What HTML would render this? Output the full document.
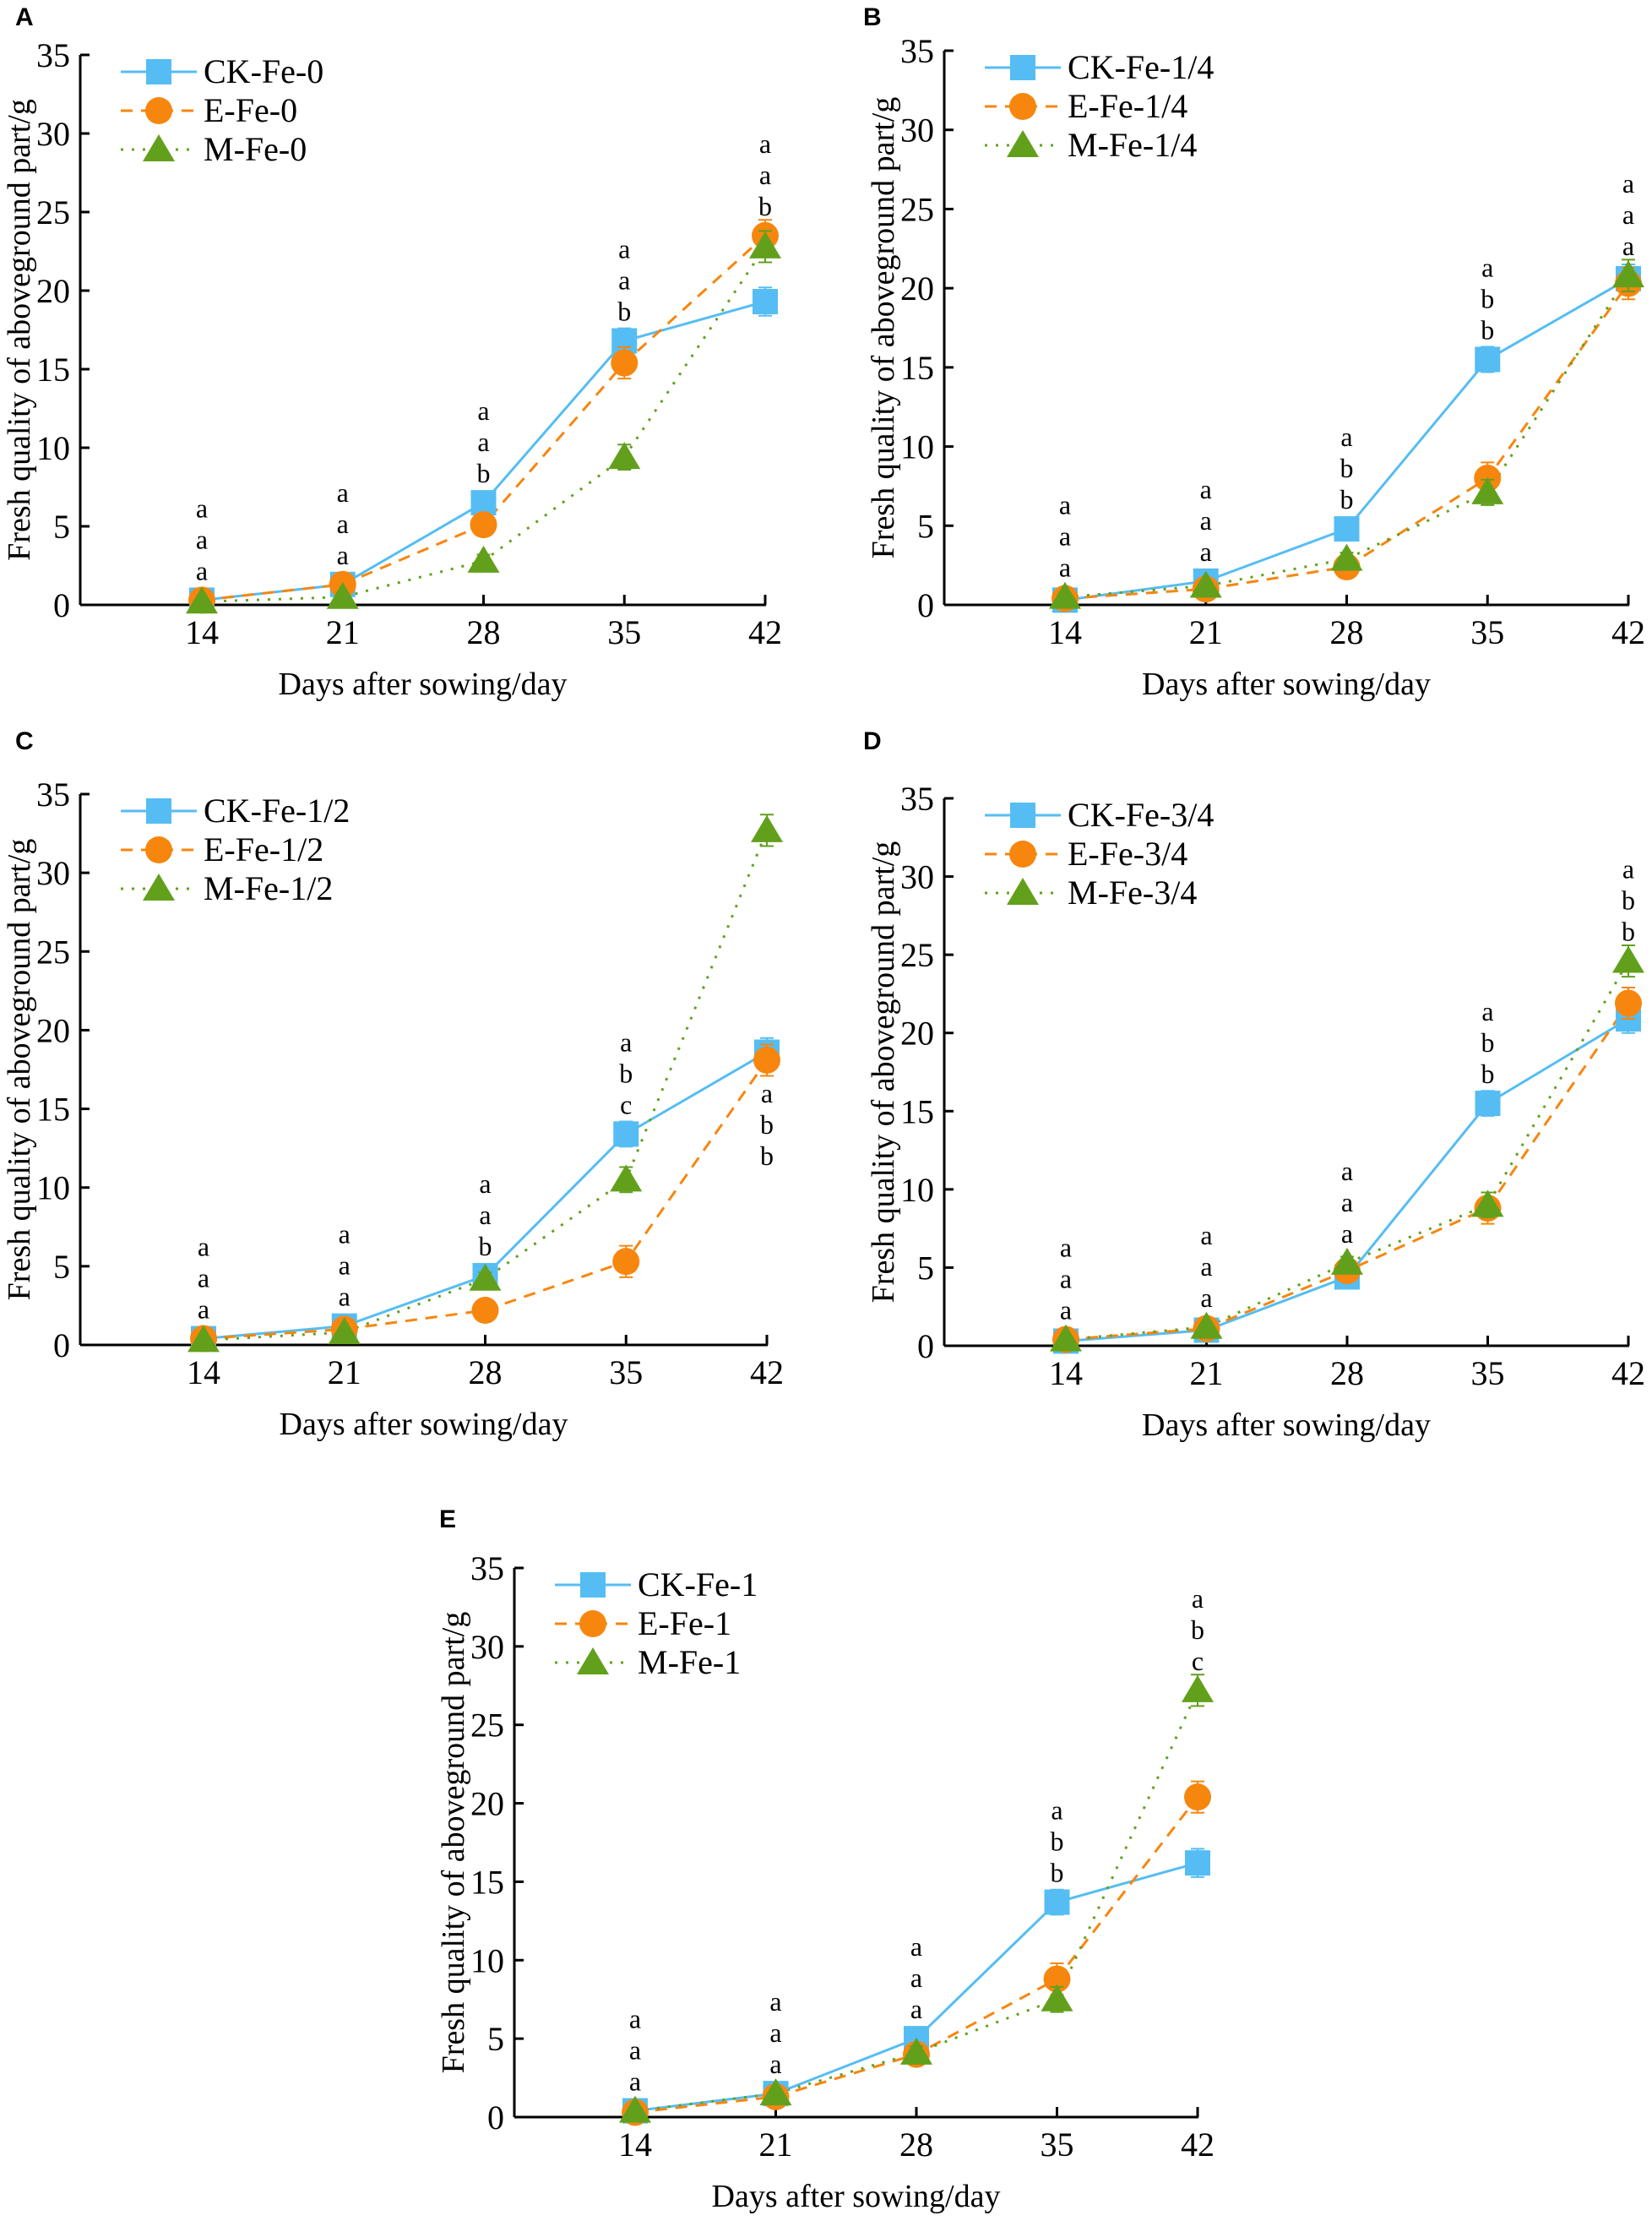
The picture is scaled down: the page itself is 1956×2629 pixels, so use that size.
<!DOCTYPE html>
<html><head><meta charset="utf-8">
<style>
html,body{margin:0;padding:0;background:#fff;}
svg{display:block;font-family:"Liberation Serif","Times New Roman",serif;}
svg text{font-family:"Liberation Serif","Times New Roman",serif;}
svg text.pl{font-family:"Liberation Sans",Arial,sans-serif;font-weight:bold;font-size:30px;}
</style></head>
<body>
<svg id="chart" width="1956" height="2629" viewBox="0 0 1956 2629" xmlns="http://www.w3.org/2000/svg" font-family="Liberation Serif, serif"></svg>
<script>
const days = [14, 21, 28, 35, 42];
const yTicks = [0, 5, 10, 15, 20, 25, 30, 35];
const suffixes = ["0", "1/4", "1/2", "3/4", "1"];
const panelLetters = ["A", "B", "C", "D", "E"];
const ckA = [0.3, 1.3, 6.5, 16.8, 19.3];
const eA = [0.3, 1.3, 5.1, 15.4, 23.5];
const mA = [0.2, 0.5, 2.8, 9.4, 22.8];
const ckB = [0.3, 1.5, 4.8, 15.5, 20.6];
const eB = [0.4, 1.0, 2.4, 8.0, 20.3];
const mB = [0.5, 1.2, 2.9, 7.1, 20.8];
const ckC = [0.4, 1.2, 4.4, 13.4, 18.6];
const eC = [0.4, 1.0, 2.2, 5.3, 18.1];
const mC = [0.3, 0.8, 4.2, 10.5, 32.7];
const ckD = [0.3, 1.0, 4.4, 15.5, 20.9];
const eD = [0.4, 1.1, 4.8, 8.8, 21.9];
const mD = [0.4, 1.2, 5.3, 9.0, 24.6];
const ckE = [0.4, 1.5, 5.0, 13.7, 16.2];
const eE = [0.3, 1.3, 4.0, 8.8, 20.4];
const mE = [0.4, 1.5, 4.1, 7.5, 27.2];
const errCK = [0.1, 0.2, 0.5, 0.8, 0.9];
const errE = [0.1, 0.2, 0.5, 1.0, 1.0];
const errM = [0.1, 0.2, 0.4, 0.8, 1.0];
const lettersA = ["aaa", "aaa", "aab", "aab", "aab"];
const lettersB = ["aaa", "aaa", "abb", "abb", "aaa"];
const lettersC = ["aaa", "aaa", "aab", "abc", "abb"];
const lettersD = ["aaa", "aaa", "aaa", "abb", "abb"];
const lettersE = ["aaa", "aaa", "aaa", "abb", "abc"];
const below = [[], [], [4], [], []];

const panels = [
  {ax:95, x0:239, x1:906, y0:716, y35:65, lx:18, ly:30, ck:ckA, e:eA, m:mA, let:lettersA},
  {ax:1118, x0:1261, x1:1928, y0:716, y35:60, lx:1022, ly:30, ck:ckB, e:eB, m:mB, let:lettersB},
  {ax:95, x0:241, x1:908, y0:1592, y35:940, lx:18, ly:887, ck:ckC, e:eC, m:mC, let:lettersC},
  {ax:1118, x0:1262, x1:1928, y0:1593, y35:945, lx:1022, ly:887, ck:ckD, e:eD, m:mD, let:lettersD},
  {ax:609, x0:752, x1:1418, y0:2506, y35:1856, lx:520, ly:1808, ck:ckE, e:eE, m:mE, let:lettersE}
];
const NS = "http://www.w3.org/2000/svg";
const svg = document.getElementById("chart");
const SERIF = "Liberation Serif, Times New Roman, serif";
function mk(tag, attrs, parent) {
  const el = document.createElementNS(NS, tag);
  for (const k in attrs) el.setAttribute(k, attrs[k]);
  if (tag === "text" && !attrs.class) el.setAttribute("font-family", SERIF);
  (parent || svg).appendChild(el);
  return el;
}
const BLUE = "#55bdf3", ORANGE = "#f7860f", GREEN = "#62a01c";
const styles = [
  {c:BLUE, dash:"", name:"CK"},
  {c:ORANGE, dash:"14 10", name:"E"},
  {c:GREEN, dash:"3 10", name:"M"}
];
function marker(g, kind, x, y, color) {
  let el;
  if (kind === 0) el = mk("rect", {x:x-15, y:y-15, width:30, height:30, fill:color}, g);
  else if (kind === 1) el = mk("circle", {cx:x, cy:y, r:16, fill:color}, g);
  else el = mk("polygon", {points:`${x},${y-18} ${x+19},${y+14} ${x-19},${y+14}`, fill:color}, g);
  return el;
}
panels.forEach((p, pi) => {
  const g = mk("g", {});
  
  
  const xs = d => p.x0 + (d - days[0]) / (days[days.length-1] - days[0]) * (p.x1 - p.x0);
  const ys = v => p.y0 - v / 35 * (p.y0 - p.y35);
  const lab = mk("text", {x:p.lx, y:p.ly, class:"pl", "font-family":"Liberation Sans, Arial, sans-serif", "font-weight":"bold", "font-size":30}, g);
  lab.textContent = panelLetters[pi];
  
  
  const yax = mk("line", {x1:p.ax, y1:p.y35, x2:p.ax, y2:p.y0, stroke:"#000", "stroke-width":3}, g);
  
  
  const xax = mk("line", {x1:p.ax, y1:p.y0, x2:p.x1+1, y2:p.y0, stroke:"#000", "stroke-width":3}, g);
  
  
  yTicks.forEach(t => {
    mk("line", {x1:p.ax, y1:ys(t), x2:p.ax+11, y2:ys(t), stroke:"#000", "stroke-width":3}, g);
    const tl = mk("text", {x:p.ax-12, y:ys(t)+14, "text-anchor":"end", "font-size":40}, g);
    tl.textContent = t;
    
    
  });
  days.forEach(d => {
    mk("line", {x1:xs(d), y1:p.y0, x2:xs(d), y2:p.y0-12, stroke:"#000", "stroke-width":3}, g);
    const tl = mk("text", {x:xs(d), y:p.y0+46, "text-anchor":"middle", "font-size":40}, g);
    tl.textContent = d;
    
    
  });
  const xt = mk("text", {x:(p.ax+p.x1)/2, y:p.y0+106, "text-anchor":"middle", "font-size":38}, g);
  xt.textContent = "Days after sowing/day";
  
  
  const ymid = (p.y0 + p.y35) / 2;
  const yt = mk("text", {x:p.ax-72, y:ymid, "text-anchor":"middle", "font-size":38, transform:`rotate(-90 ${p.ax-72} ${ymid})`, dy:12}, g);
  yt.textContent = "Fresh quality of aboveground part/g";
  
  
  const series = [p.ck, p.e, p.m];
  const errs = [errCK, errE, errM];
  series.forEach((vals, si) => {
    const pts = vals.map((v, i) => xs(days[i]) + "," + ys(v)).join(" ");
    const pl = mk("polyline", {points:pts, fill:"none", stroke:styles[si].c, "stroke-width":3, "stroke-dasharray":styles[si].dash}, g);
    
    
  });
  series.forEach((vals, si) => {
    vals.forEach((v, i) => {
      const x = xs(days[i]), er = errs[si][i];
      const eb = mk("path", {d:`M${x},${ys(v+er)}V${ys(v-er)}M${x-8},${ys(v+er)}H${x+8}M${x-8},${ys(v-er)}H${x+8}`, stroke:styles[si].c, "stroke-width":2, fill:"none"}, g);
      
      
      const mkr = marker(g, si, x, ys(v), styles[si].c);
      
      
    });
  });
  p.let.forEach((s, i) => {
    const x = xs(days[i]);
    const vals = series.map(a => a[i]);
    const isBelow = below[pi].indexOf(i) >= 0;
    for (let k = 0; k < 3; k++) {
      let y;
      if (isBelow) y = ys(Math.min(...vals)) + 50 + k * 37;
      else y = ys(Math.max(...vals)) - 24 - (2 - k) * 37;
      const t = mk("text", {x:x, y:y, "text-anchor":"middle", "font-size":32}, g);
      t.textContent = s[k];
      
      
    }
  });
  const lg = mk("g", {}, g);
  
  
  styles.forEach((st, si) => {
    const ry = p.y35 + 20 + si * 46;
    const lx = p.ax + 48;
    mk("line", {x1:lx, y1:ry, x2:lx+90, y2:ry, stroke:st.c, "stroke-width":3, "stroke-dasharray":st.dash}, lg);
    marker(lg, si, lx+45, ry, st.c);
    const t = mk("text", {x:lx+98, y:ry+13, "font-size":40}, lg);
    t.textContent = st.name + "-Fe-" + suffixes[pi];
    
    
  });
});
</script>
</body></html>
